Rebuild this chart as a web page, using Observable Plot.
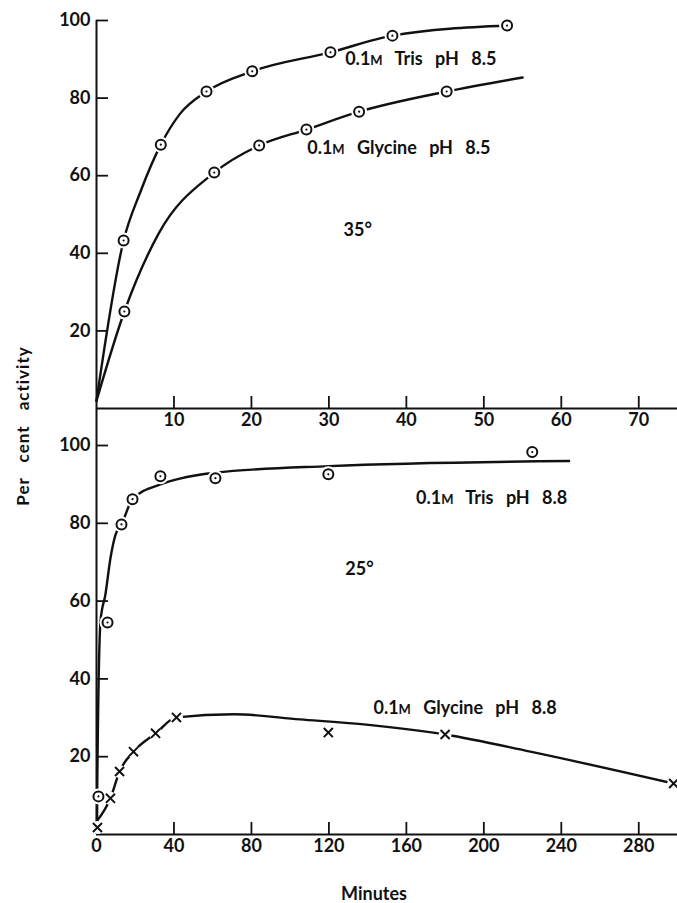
<!DOCTYPE html>
<html><head><meta charset="utf-8">
<script src="https://cdn.jsdelivr.net/npm/d3@7"></script>
<script src="https://cdn.jsdelivr.net/npm/@observablehq/plot@0.6"></script>
<style>
body{margin:0;background:#fff;}
#wrap{position:relative;width:677px;height:903px;font-family:Lato,"DejaVu Sans",sans-serif;font-weight:700;color:#111;}
#wrap svg{position:absolute;left:0;}
.ylab{position:absolute;left:22px;top:426px;transform:translate(-50%,-50%) rotate(-90deg);font-size:17px;white-space:nowrap;letter-spacing:1px;word-spacing:10px;}
.xlab{position:absolute;left:374px;top:893px;transform:translate(-50%,-50%);font-size:18px;white-space:nowrap;}
</style></head><body>
<div id="wrap"></div>
<script>
// ---------- Top panel (35°), minutes 0–75 ----------
const tris85Min = [3.5, 8.3, 14.2, 20.1, 30.2, 38.2, 53];
const tris85Act = [43.3, 68, 81.7, 86.9, 91.8, 96.1, 98.7];
const tris85CurveMin = [0, 3.5, 5.7, 8.3, 10.8, 14.2, 20.1, 30.2, 38.2, 53];
const tris85CurveAct = [2, 43.3, 56, 68, 76, 81.7, 86.9, 91.8, 96.1, 98.7];

const gly85Min = [3.6, 15.2, 21, 27.1, 33.9, 45.2];
const gly85Act = [25, 60.8, 67.8, 71.9, 76.5, 81.7];
const gly85CurveMin = [0, 3.6, 8, 15.2, 21, 27.1, 33.9, 45.2, 55];
const gly85CurveAct = [2, 25, 45, 60.8, 67.8, 71.9, 76.5, 81.7, 85.3];

const topXTicks = [10, 20, 30, 40, 50, 60, 70];
const topYTicks = [20, 40, 60, 80, 100];
const topLabels = ["0.1M Tris pH 8.5", "0.1M Glycine pH 8.5", "35°"];
const topLabelMin = [32.1, 27.2, 31.9];
const topLabelAct = [90, 67, 45.9];

// ---------- Bottom panel (25°), minutes 0–300 ----------
const tris88Min = [1, 5.7, 12.9, 18.6, 33, 61.4, 119.7, 225];
const tris88Act = [9.8, 54.5, 79.7, 86.2, 92.1, 91.6, 92.6, 98.3];
const tris88CurveMin = [0.3, 0.4, 2.1, 4.6, 7.2, 9.8, 12.9, 18.6, 33, 43, 61, 120, 244];
const tris88CurveAct = [3.5, 13, 55, 61.7, 71, 77, 79.7, 86.2, 90, 91.5, 93, 94.7, 96];

const gly88Min = [0.5, 7.2, 11.9, 19.1, 30.5, 41.3, 119.7, 180, 298];
const gly88Act = [1.8, 9.3, 16.2, 21.3, 26, 30.1, 26.2, 25.7, 13.1];
const gly88CurveMin = [0.3, 7.2, 11.9, 19.1, 30.5, 41.3, 71, 105, 138, 180, 224, 298];
const gly88CurveAct = [3.5, 9.3, 16.2, 21.3, 26, 30.1, 30.9, 29.6, 28.3, 25.7, 21.3, 13.1];

const botXTicks = [0, 40, 80, 120, 160, 200, 240, 280];
const botYTicks = [20, 40, 60, 80, 100];
const botLabels = ["0.1M Tris pH 8.8", "25°", "0.1M Glycine pH 8.8"];
const botLabelMin = [165, 128.5, 143];
const botLabelAct = [86.4, 68.2, 32.4];

// ---------- helpers ----------
const zip = (xs, ys) => xs.map((x, i) => ({x, y: ys[i]}));
const W = 677, ML = 96, MR = 0;
const FONT = "Lato, 'DejaVu Sans', sans-serif";

function panel({height, marginTop, marginBottom, xDomain, xTicks, yTicks, series, labels, extendAxisTop = 0}) {
  const frameH = height - marginTop - marginBottom;
  const frameW = W - ML - MR;
  const marks = [];
  marks.push(Plot.ruleY([0], {stroke: "#111", strokeWidth: 2}));
  marks.push(Plot.ruleX([0], {stroke: "#111", strokeWidth: 2, insetTop: -extendAxisTop}));
  marks.push(Plot.ruleX(xTicks, {x: d => d, stroke: "#111", strokeWidth: 1.8, insetTop: frameH - 12}));
  marks.push(Plot.ruleY(yTicks, {y: d => d, stroke: "#111", strokeWidth: 1.8, insetRight: frameW - 12}));
  marks.push(Plot.axisX(xTicks, {tickSize: 0, tickPadding: 5, label: null, fontSize: 18, fontWeight: 700, fill: "#111"}));
  marks.push(Plot.axisY(yTicks, {tickSize: 0, tickPadding: 6, label: null, fontSize: 18, fontWeight: 700, fill: "#111"}));
  for (const s of series) {
    marks.push(Plot.line(s.curve, {x: "x", y: "y", curve: "monotone-x", stroke: "#111", strokeWidth: 2.4}));
  }
  for (const s of series) {
    marks.push(Plot.dot(s.points, {x: "x", y: "y", r: s.symbol === "times" ? 6.5 : 8, fill: "white"}));
  }
  for (const s of series) {
    if (s.symbol === "times") {
      marks.push(Plot.dot(s.points, {x: "x", y: "y", symbol: "times", r: 4.2, stroke: "#111", strokeWidth: 2}));
    } else {
      marks.push(Plot.dot(s.points, {x: "x", y: "y", r: 5, fill: "white", stroke: "#111", strokeWidth: 2}));
      marks.push(Plot.dot(s.points, {x: "x", y: "y", r: 1.1, fill: "#111"}));
    }
  }
  marks.push(Plot.text(labels, {x: "x", y: "y", text: "t", textAnchor: "start", fontSize: 18, fontWeight: 700, fill: "#111"}));

  const svg = Plot.plot({
    width: W, height, marginLeft: ML, marginRight: MR, marginTop, marginBottom,
    x: {domain: xDomain, axis: null},
    y: {domain: [0, 100], axis: null},
    style: {background: "transparent", fontFamily: FONT, fontSize: "18px", color: "#111", overflow: "visible"},
    marks
  });
  svg.querySelectorAll("text").forEach(t => {
    const s = t.textContent;
    if (s.startsWith("0.1M")) {
      t.textContent = "";
      const a = document.createElementNS("http://www.w3.org/2000/svg", "tspan");
      a.textContent = "0.1";
      const m = document.createElementNS("http://www.w3.org/2000/svg", "tspan");
      m.textContent = "M"; m.setAttribute("font-size", "13");
      const b = document.createElementNS("http://www.w3.org/2000/svg", "tspan");
      b.textContent = s.slice(4);
      t.append(a, m, b);
      t.style.wordSpacing = "8px";
    }
  });
  return svg;
}

const wrap = document.getElementById("wrap");

const topPanel = panel({
  height: 432, marginTop: 20, marginBottom: 24,
  xDomain: [0, 75], xTicks: topXTicks, yTicks: topYTicks,
  series: [
    {curve: zip(tris85CurveMin, tris85CurveAct), points: zip(tris85Min, tris85Act), symbol: "circle"},
    {curve: zip(gly85CurveMin, gly85CurveAct), points: zip(gly85Min, gly85Act), symbol: "circle"}
  ],
  labels: topLabels.map((t, i) => ({t, x: topLabelMin[i], y: topLabelAct[i]}))
});
topPanel.style.top = "0px";
wrap.appendChild(topPanel);

const botPanel = panel({
  height: 450, marginTop: 37, marginBottom: 24,
  xDomain: [0, 300], xTicks: botXTicks, yTicks: botYTicks,
  extendAxisTop: 37,
  series: [
    {curve: zip(tris88CurveMin, tris88CurveAct), points: zip(tris88Min, tris88Act), symbol: "circle"},
    {curve: zip(gly88CurveMin, gly88CurveAct), points: zip(gly88Min, gly88Act), symbol: "times"}
  ],
  labels: botLabels.map((t, i) => ({t, x: botLabelMin[i], y: botLabelAct[i]}))
});
botPanel.style.top = "408px";
wrap.appendChild(botPanel);

const yl = document.createElement("div");
yl.className = "ylab"; yl.textContent = "Per cent activity";
wrap.appendChild(yl);
const xl = document.createElement("div");
xl.className = "xlab"; xl.textContent = "Minutes";
wrap.appendChild(xl);
</script>
</body></html>
